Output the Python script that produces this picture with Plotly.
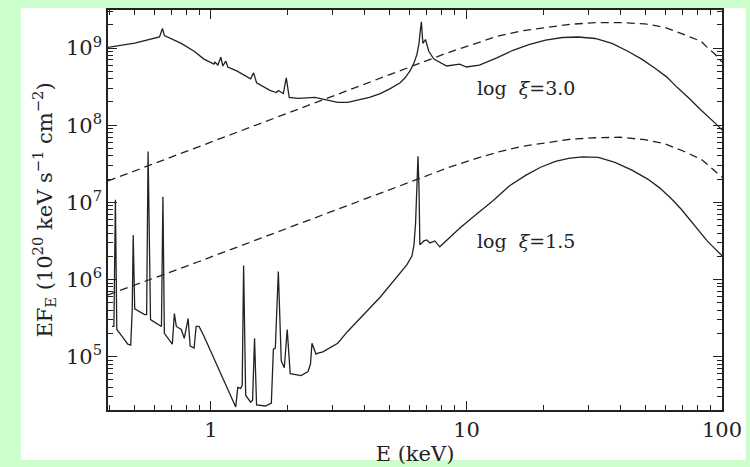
import math
import plotly.graph_objects as go

# ---- data (E in keV, EF_E in 10^20 keV s^-1 cm^-2) ----
hi_E = [0.395, 0.503, 0.629, 0.646, 0.657, 0.765, 0.859, 0.939, 1.027, 1.036, 1.064, 1.093, 1.113, 1.143,
        1.164, 1.261, 1.429, 1.468, 1.508, 1.708, 1.803, 1.835, 1.919, 1.971, 2.024, 2.193, 2.553, 2.867,
        3.134, 3.43, 3.747, 4.17, 4.60, 5.03, 5.50, 5.75, 6.01, 6.23, 6.40, 6.52, 6.57, 6.66, 6.75, 6.91,
        7.12, 7.45, 8.37, 9.40, 10.0, 11.23, 13.07, 15.2, 17.55, 20.4, 23.8, 27.4, 31.9, 37.1, 42.8, 48.5,
        54.5, 60.7, 66.9, 74.5, 82.9, 90.7, 95.6, 100]
hi_EF = [1.02e9, 1.16e9, 1.39e9, 1.80e9, 1.45e9, 1.15e9, 9.08e8, 7.18e8, 6.19e8, 6.58e8, 6.02e8, 7.61e8,
         5.85e8, 6.77e8, 5.68e8, 5.05e8, 3.99e8, 4.76e8, 3.55e8, 2.81e8, 2.65e8, 2.81e8, 2.57e8, 4.11e8,
         2.29e8, 2.22e8, 2.29e8, 2.09e8, 1.97e8, 1.97e8, 2.09e8, 2.29e8, 2.57e8, 2.98e8, 3.55e8, 4.11e8,
         5.05e8, 6.38e8, 8.31e8, 1.15e9, 1.49e9, 2.19e9, 1.15e9, 1.29e9, 9.08e8, 7.18e8, 5.85e8, 6.19e8,
         5.68e8, 6.02e8, 7.40e8, 9.35e8, 1.11e9, 1.27e9, 1.37e9, 1.39e9, 1.33e9, 1.15e9, 9.08e8, 7.18e8,
         5.51e8, 4.23e8, 3.07e8, 2.22e8, 1.56e8, 1.20e8, 1.01e8, 8.69e7]

lo_E = [0.41, 0.417, 0.4226, 0.428, 0.448, 0.4725, 0.4853, 0.4918, 0.4962, 0.503, 0.55, 0.56, 0.5674, 0.58,
        0.640, 0.6486, 0.657, 0.706, 0.719, 0.732, 0.765, 0.786, 0.814, 0.829, 0.859, 0.875, 0.898, 0.939,
        1.250, 1.273, 1.307, 1.325, 1.342, 1.367, 1.429, 1.455, 1.481, 1.508, 1.634, 1.723, 1.755, 1.786,
        1.835, 1.884, 1.936, 1.988, 2.042, 2.253, 2.398, 2.452, 2.485, 2.576, 2.623, 2.742, 3.134, 3.426,
        4.60, 5.85, 6.12, 6.23, 6.32, 6.40, 6.46, 6.52, 6.57, 6.81, 7.00, 7.19, 7.38, 7.52, 7.86, 9.40,
        10.9, 12.7, 14.7, 17.1, 19.5, 22.3, 25.1, 28.4, 32.8, 38.1, 44.4, 51.2, 57.0, 63.4, 69.4, 75.8,
        81.5, 87.5, 93.1, 100]
lo_EF = [2.46e5, 2.46e5, 1.08e7, 2.25e5, 1.84e5, 1.45e5, 1.41e5, 4.05e5, 3.77e6, 4.17e5, 3.50e5, 3.50e5,
         4.56e7, 3.02e5, 2.46e5, 1.18e7, 2.00e5, 1.45e5, 3.61e5, 2.46e5, 2.25e5, 1.73e5, 3.11e5, 1.37e5,
         1.29e5, 2.46e5, 2.46e5, 1.84e5, 2.22e4, 3.99e4, 3.87e4, 4.23e4, 1.52e6, 3.16e4, 2.57e4, 2.73e4,
         1.73e5, 2.36e4, 2.29e4, 2.50e4, 1.25e5, 1.29e5, 1.27e6, 8.81e4, 7.18e4, 2.25e5, 6.02e4, 5.68e4,
         6.38e4, 8.07e4, 1.49e5, 1.08e5, 1.11e5, 1.15e5, 1.49e5, 2.12e5, 5.93e5, 1.56e6, 2.03e6, 2.81e6,
         5.36e6, 1.73e7, 3.94e7, 1.49e7, 2.81e6, 3.16e6, 3.25e6, 2.98e6, 3.07e6, 3.16e6, 2.65e6, 4.62e6,
         6.97e6, 1.05e7, 1.63e7, 2.25e7, 2.85e7, 3.40e7, 3.71e7, 3.88e7, 3.82e7, 3.30e7, 2.61e7, 2.00e7,
         1.54e7, 1.11e7, 8.07e6, 5.68e6, 4.23e6, 3.16e6, 2.57e6, 2.03e6]

inc_E = [0.395, 0.898, 2.19, 5.35, 8.37, 10.46, 13.1, 16.3, 20.4, 25.5, 31.9, 39.9, 49.9, 59.6, 71.2,
         82.9, 87.5, 93.1, 100]
inc_hi_EF = [1.89e7, 5.27e7, 1.61e8, 4.90e8, 8.6e8, 1.10e9, 1.41e9, 1.66e9, 1.84e9, 2.03e9, 2.13e9,
             2.14e9, 2.06e9, 1.86e9, 1.49e9, 1.22e9, 1.02e9, 8.56e8, 6.57e8]
inc_lo_EF = [6.30e5, 1.71e6, 5.20e6, 1.58e7, 2.77e7, 3.55e7, 4.43e7, 5.28e7, 5.93e7, 6.57e7, 6.87e7,
             6.97e7, 6.48e7, 5.76e7, 4.56e7, 3.60e7, 3.11e7, 2.61e7, 2.12e7]

labels = ["log\u00a0\u00a0<i>ξ</i>=3.0", "log\u00a0\u00a0<i>ξ</i>=1.5"]
label_E = [17.1, 17.1]
label_EF = [3.07e8, 3.16e6]

x_ticks = [1, 10, 100]
y_ticks = [1e5, 1e6, 1e7, 1e8, 1e9]
y_ticktext = ["10<sup>5</sup>", "10<sup>6</sup>", "10<sup>7</sup>", "10<sup>8</sup>", "10<sup>9</sup>"]

FONT = "DejaVu Serif"
INK = "#222222"

fig = go.Figure()
for xs, ys, dash in [(inc_E, inc_hi_EF, "8px,5px"), (inc_E, inc_lo_EF, "8px,5px"),
                     (hi_E, hi_EF, "solid"), (lo_E, lo_EF, "solid")]:
    fig.add_trace(go.Scatter(x=xs, y=ys, mode="lines",
                             line=dict(color=INK, width=1.3, dash=dash),
                             showlegend=False, hoverinfo="skip"))

for t, xe, ye in zip(labels, label_E, label_EF):
    fig.add_annotation(x=math.log10(xe), y=math.log10(ye), text=t, showarrow=False,
                       xanchor="center", yanchor="middle",
                       font=dict(family=FONT, size=19, color=INK))

x_minor = [m * 10 ** d for d in (-1, 0, 1) for m in range(2, 10)]
y_minor = [m * 10 ** d for d in range(4, 10) for m in range(2, 10)]

axis_common = dict(type="log", showline=True, linecolor=INK, linewidth=1.5, mirror="allticks",
                   ticks="inside", ticklen=9, tickwidth=1.2, tickcolor=INK, showgrid=False,
                   zeroline=False, tickfont=dict(family=FONT, size=21, color=INK))

fig.update_xaxes(range=[-0.403, 2.0], tickmode="array", tickvals=x_ticks,
                 ticktext=[str(v) for v in x_ticks],
                 minor=dict(tickmode="array", tickvals=x_minor, ticks="inside", ticklen=5,
                            tickwidth=1.0, tickcolor=INK, showgrid=False),
                 title=dict(text="E (keV)", font=dict(family=FONT, size=21, color=INK), standoff=2),
                 **axis_common)
fig.update_yaxes(range=[4.308, 9.493], tickmode="array", tickvals=y_ticks, ticktext=y_ticktext,
                 minor=dict(tickmode="array", tickvals=y_minor, ticks="inside", ticklen=5,
                            tickwidth=1.0, tickcolor=INK, showgrid=False),
                 title=dict(text="EF<sub>E</sub> (10<sup>20</sup> keV s<sup>−1</sup> cm<sup>−2</sup>)",
                            font=dict(family=FONT, size=21, color=INK), standoff=8),
                 **axis_common)

fig.add_shape(type="rect", xref="paper", yref="paper",
              x0=(20 - 108) / 620, x1=(752 - 108) / 620, y0=(415 - 466) / 407, y1=(415 - 6) / 407,
              fillcolor="white", line=dict(width=0), layer="below")

fig.update_layout(width=750, height=467, margin=dict(l=108, r=22, t=8, b=52),
                  paper_bgcolor="#ccffcc", plot_bgcolor="white", showlegend=False)

fig.write_html("out.html")
